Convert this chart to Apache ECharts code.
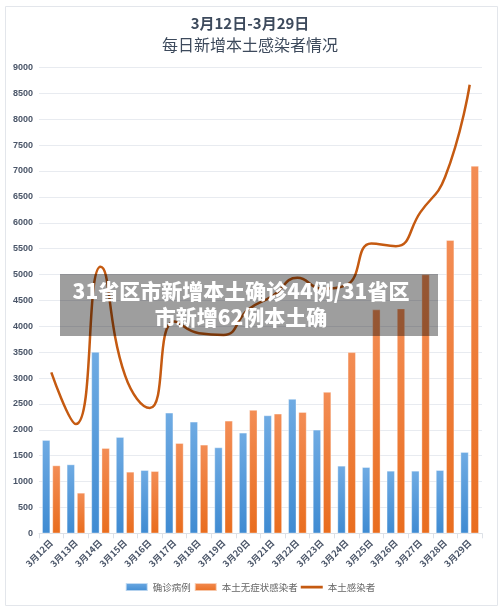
<!DOCTYPE html>
<html><head><meta charset="utf-8">
<script src="https://cdn.jsdelivr.net/npm/echarts@6/dist/echarts.min.js"></script>
<style>html,body{margin:0;padding:0;background:#fff;}#c{width:500px;height:611px;}</style>
</head><body><div id="c"></div>
<script>
const categories = ['3月12日','3月13日','3月14日','3月15日','3月16日','3月17日','3月18日','3月19日','3月20日','3月21日','3月22日','3月23日','3月24日','3月25日','3月26日','3月27日','3月28日','3月29日'];
const confirmed = [1800,1329,3503,1858,1219,2329,2155,1658,1942,2277,2594,2000,1303,1277,1206,1206,1219,1568];
const asymptomatic = [1310,781,1645,1187,1200,1742,1710,2174,2381,2310,2342,2729,3497,4323,4342,5000,5665,7098];
const totalLocal = [3110,2110,5148,3045,2419,4090,3865,3832,4323,4587,4936,4729,4800,5600,5548,6206,6884,8666];
const yTicks = {min:0, max:9000, interval:500};
const titleLines = ['3月12日-3月29日','每日新增本土感染者情况'];
const seriesNames = ['确诊病例','本土无症状感染者','本土感染者'];
const overlayText = ['31省区市新增本土确诊44例/31省区','市新增62例本土确'];

const chart = echarts.init(document.getElementById('c'));
const sans = '"Liberation Sans", "Noto Sans CJK SC", sans-serif';
const cjk = '"Noto Sans CJK SC", sans-serif';
chart.setOption({
  animation:false,
  backgroundColor:'#fff',
  title:[
    {text:titleLines[0], left:'center', top:11, textStyle:{fontFamily:cjk,fontSize:15,fontWeight:'bold',color:'#3d4a5c'}},
    {text:titleLines[1], left:'center', top:32, textStyle:{fontFamily:cjk,fontSize:16,fontWeight:'normal',color:'#3d4a5c'}}
  ],
  grid:{left:39,right:18,top:67.5,bottom:77.7},
  legend:{
    bottom:14, left:'center', itemWidth:22, itemHeight:8, itemGap:3,
    textStyle:{fontFamily:cjk,fontSize:9.5,color:'#666'},
    data:[
      {name:seriesNames[0],icon:'rect'},
      {name:seriesNames[1],icon:'rect'},
      {name:seriesNames[2],icon:'path://M0,0h0.01v8h-0.01z M0,2.8h22v2.6h-22z'}
    ]
  },
  xAxis:{
    type:'category', data:categories,
    axisLine:{lineStyle:{color:'#dde1e7'}},
    axisTick:{show:true,lineStyle:{color:'#dde1e7'}},
    axisLabel:{rotate:45, interval:0, fontSize:9, fontWeight:'bold', color:'#4a5568', fontFamily:cjk, margin:8}
  },
  yAxis:{
    type:'value', min:yTicks.min, max:yTicks.max, interval:yTicks.interval,
    axisLine:{show:false}, axisTick:{show:false},
    axisLabel:{fontSize:9, fontWeight:'bold', color:'#4a5568', fontFamily:sans, margin:6, formatter:function(v){return String(v);}},
    splitLine:{lineStyle:{color:'#e8ebf0'}}
  },
  series:[
    {name:seriesNames[0], type:'bar', data:confirmed, barWidth:8, barGap:'28%',
     itemStyle:{borderColor:'rgba(255,255,255,0.6)',borderWidth:0.6,
       color:new echarts.graphic.LinearGradient(0,0,0,1,[{offset:0,color:'#6fabe3'},{offset:1,color:'#3f8bd2'}])}},
    {name:seriesNames[1], type:'bar', data:asymptomatic, barWidth:8,
     itemStyle:{borderColor:'rgba(255,255,255,0.6)',borderWidth:0.6,
       color:new echarts.graphic.LinearGradient(0,0,0,1,[{offset:0,color:'#f38d55'},{offset:1,color:'#e96d1e'}])}},
    {name:seriesNames[2], type:'line', data:totalLocal, smooth:0.5, symbol:'none',
     lineStyle:{color:'#c55a11',width:2.5}, itemStyle:{color:'#c55a11'}}
  ],
  graphic:[
    {type:'rect', left:3, top:4, shape:{width:492, height:599}, silent:true,
     style:{fill:'none', stroke:'#e3e6eb', lineWidth:1}, z:-1},
    {type:'rect', left:60, top:274, shape:{width:378, height:62}, z:100,
     style:{fill:'rgba(0,0,0,0.38)'}},
    {type:'text', x:241, y:281, z:101,
     style:{text:overlayText[0], fill:'#fff', textAlign:'center', font:'900 21px "Noto Sans CJK SC", sans-serif'}},
    {type:'text', x:241, y:307, z:101,
     style:{text:overlayText[1], fill:'#fff', textAlign:'center', font:'900 21px "Noto Sans CJK SC", sans-serif'}}
  ]
});
</script></body></html>
